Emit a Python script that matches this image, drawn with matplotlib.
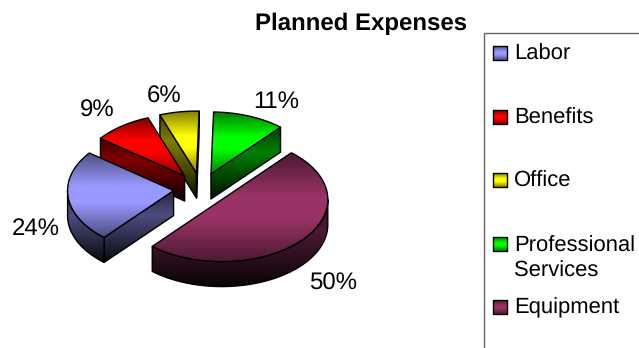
import numpy as np
import matplotlib
matplotlib.use("Agg")
import matplotlib.pyplot as plt
from matplotlib.colors import LinearSegmentedColormap, to_rgb
from matplotlib.patches import Polygon

plt.rcParams['font.family'] = ['Liberation Sans', 'DejaVu Sans']
plt.rcParams['text.hinting'] = 'no_hinting'
plt.rcParams['text.hinting_factor'] = 1

categories = ['Labor', 'Benefits', 'Office', 'Professional\nServices', 'Equipment']
shares = [24, 9, 6, 11, 50]
colors = ['#9999ff', '#ff0000', '#ffff00', '#00ff00', '#993366']

# pie layout, in pixels
cx, cy = 201, 189
rx, ry = 106, 62
depth = 25
explode = 0.26
start_angle = 229
label_xy = [(36, 229), (97, 111), (164, 97), (276, 102), (333, 284)]
legend_y = [53, 117, 180, 244, 307]
draw_order = [2, 3, 1, 0, 4]

TOP_STOPS = [(0, 0.5), (0.4, 1.0), (0.6, 1.0), (1, 0.5)]
SIDE_STOPS = [(0, 0.25), (0.35, 0.5), (1, 0.06)]


def shade(poly, box, stops, base, ax):
    """fill a polygon with a vertical colour ramp spanning box"""
    base = np.array(to_rgb(base))
    ramp = LinearSegmentedColormap.from_list(
        'r', [(p, tuple(base * f)) for p, f in stops])
    im = ax.imshow(np.linspace(0, 1, 256)[:, None], cmap=ramp, vmin=0, vmax=1,
                   extent=(box[0], box[2], box[3], box[1]), aspect='auto',
                   zorder=ax.zcount)
    im.set_clip_path(Polygon(poly, closed=True, transform=ax.transData))
    ax.add_patch(Polygon(poly, closed=True, fill=False, edgecolor='black',
                         lw=1.0, joinstyle='round', zorder=ax.zcount + 1))
    ax.zcount += 2


def bounds(poly):
    return poly[:, 0].min(), poly[:, 1].min(), poly[:, 0].max(), poly[:, 1].max()


def rim(t, ax0, ay0):
    t = np.radians(t)
    return np.column_stack([ax0 + rx * np.cos(t), ay0 - ry * np.sin(t)])


fig = plt.figure(figsize=(6.39, 3.48), dpi=100)
ax = fig.add_axes([0, 0, 1, 1])
ax.zcount = 2

spans = []
angle = start_angle
for v in shares:
    spans.append((angle - v * 3.6, angle))
    angle -= v * 3.6

for i in draw_order:
    lo, hi = spans[i]
    mid = np.radians((lo + hi) / 2)
    ax0 = cx + explode * rx * np.cos(mid)
    ay0 = cy - explode * ry * np.sin(mid)
    apex = np.array([[ax0, ay0]])
    drop = np.array([0, depth])

    walls = []
    # cut faces that look towards the viewer
    if np.cos(np.radians(hi)) < 0:
        edge = np.vstack([apex, rim([hi], ax0, ay0)])
        walls.append(np.vstack([edge, edge[::-1] + drop]))
    if np.cos(np.radians(lo)) > 0:
        edge = np.vstack([apex, rim([lo], ax0, ay0)])
        walls.append(np.vstack([edge, edge[::-1] + drop]))
    # curved outer wall, lower half of the ellipse only
    for a, b in [(-180, 0), (180, 360)]:
        t0, t1 = max(lo, a), min(hi, b)
        if t1 > t0:
            arc = rim(np.linspace(t0, t1, 80), ax0, ay0)
            walls.append(np.vstack([arc, arc[::-1] + drop]))

    if walls:
        box = bounds(np.vstack(walls))
        for w in walls:
            shade(w, box, SIDE_STOPS, colors[i], ax)

    top = np.vstack([apex, rim(np.linspace(lo, hi, 120), ax0, ay0)])
    shade(top, bounds(top), TOP_STOPS, colors[i], ax)

for (x, y), v in zip(label_xy, shares):
    ax.text(x, y, f'{v}%', fontsize=17, ha='center', va='center', color='black')

ax.text(361, 24, 'Planned Expenses', fontsize=17.4, fontweight='bold',
        ha='center', va='center', color='black')

# legend frame runs off the right and bottom of the figure
ax.plot([484, 484, 640], [349, 33, 33], color='#666666', lw=1.0, zorder=1)
for name, col, y in zip(categories, colors, legend_y):
    sq = np.array([[493, y - 7], [507, y - 7], [507, y + 7], [493, y + 7]])
    shade(sq, bounds(sq), TOP_STOPS, col, ax)
    # the two-line entry hangs below its swatch
    ty = y + 15 if '\n' in name else y + 1
    ax.text(514, ty, name, fontsize=16.1, ha='left', va='center',
            linespacing=1.28, color='black')

ax.set_xlim(0, 639)
ax.set_ylim(348, 0)
ax.axis('off')
fig.savefig('out.png', dpi=100, facecolor='white')
